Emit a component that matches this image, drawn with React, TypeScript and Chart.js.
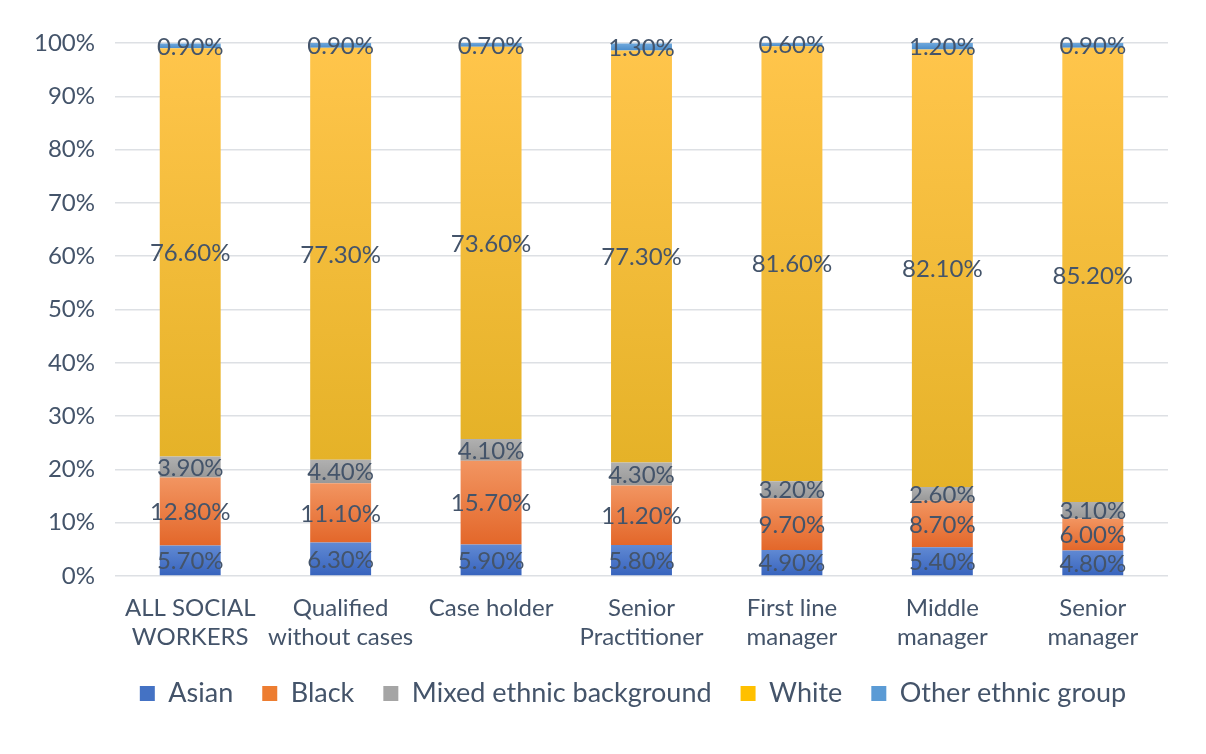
import React, { useEffect, useRef } from "react";
import { Chart, registerables } from "chart.js";

Chart.register(...registerables);

const categories: (string | string[])[] = [
  ["ALL SOCIAL", "WORKERS"],
  ["Qualified", "without cases"],
  "Case holder",
  ["Senior", "Practitioner"],
  ["First line", "manager"],
  ["Middle", "manager"],
  ["Senior", "manager"],
];

const asian = [5.7, 6.3, 5.9, 5.8, 4.9, 5.4, 4.8];
const black = [12.8, 11.1, 15.7, 11.2, 9.7, 8.7, 6.0];
const mixed = [3.9, 4.4, 4.1, 4.3, 3.2, 2.6, 3.1];
const white = [76.6, 77.3, 73.6, 77.3, 81.6, 82.1, 85.2];
const other = [0.9, 0.9, 0.7, 1.3, 0.6, 1.2, 0.9];

const yTicks = [0, 10, 20, 30, 40, 50, 60, 70, 80, 90, 100];

const TEXT = "#44546A";

const seriesDefs = [
  { label: "Asian", data: asian, top: "#6089D3", bottom: "#3763BD", solid: "#4472C4" },
  { label: "Black", data: black, top: "#F29561", bottom: "#E3672A", solid: "#ED7D31" },
  { label: "Mixed ethnic background", data: mixed, top: "#B0B0B0", bottom: "#989898", solid: "#A5A5A5" },
  { label: "White", data: white, top: "#FFC54B", bottom: "#E5B228", solid: "#FFC000" },
  { label: "Other ethnic group", data: other, top: "#6FA8DC", bottom: "#4A8CCB", solid: "#5B9BD5" },
];

const allSeries = seriesDefs.map((s) => s.data);

function gradientFor(dsIndex: number) {
  return (ctx: any) => {
    const chart = ctx.chart;
    const y = chart.scales?.y;
    const idx = ctx.dataIndex;
    const def = seriesDefs[dsIndex];
    if (!y || idx === undefined || ctx.type !== "data") return def.solid;
    let start = 0;
    for (let k = 0; k < dsIndex; k++) start += allSeries[k][idx];
    const end = start + allSeries[dsIndex][idx];
    const pTop = y.getPixelForValue(end);
    const pBot = y.getPixelForValue(start);
    if (!isFinite(pTop) || !isFinite(pBot) || pTop === pBot) return def.solid;
    const g = chart.ctx.createLinearGradient(0, pTop, 0, pBot);
    g.addColorStop(0, def.top);
    g.addColorStop(1, def.bottom);
    return g;
  };
}

const labelPlugin = {
  id: "segLabels",
  afterLayout(chart: any) {
    if (chart.legend) chart.legend.left += 84;
  },
  afterDatasetsDraw(chart: any) {
    const ctx = chart.ctx;
    ctx.save();
    ctx.font = "24px Lato";
    ctx.fillStyle = TEXT;
    ctx.textAlign = "center";
    ctx.textBaseline = "middle";
    chart.data.datasets.forEach((ds: any, di: number) => {
      const meta = chart.getDatasetMeta(di);
      meta.data.forEach((el: any, i: number) => {
        const v = ds.data[i];
        const cy = (el.y + el.base) / 2;
        ctx.fillText(v.toFixed(2) + "%", el.x, cy + 1);
      });
    });
    ctx.restore();
  },
};

export default function App() {
  const ref = useRef<HTMLCanvasElement>(null);
  useEffect(() => {
    document.body.style.margin = "0";
    const chart = new Chart(ref.current!, {
      type: "bar",
      data: {
        labels: categories,
        datasets: seriesDefs.map((s, i) => ({
          label: s.label,
          data: s.data,
          backgroundColor: gradientFor(i),
          borderWidth: 0,
          categoryPercentage: 1,
          barPercentage: 0.405,
        })),
      },
      options: {
        animation: false,
        responsive: true,
        maintainAspectRatio: false,
        layout: { padding: { top: 43, right: 38, left: 14, bottom: 37 } },
        scales: {
          x: {
            stacked: true,
            grid: { display: false },
            border: { display: false },
            afterFit: (scale: any) => {
              scale.height = 75;
            },
            ticks: {
              color: TEXT,
              font: { family: "Lato", size: 24, lineHeight: 1.2 },
              maxRotation: 0,
              autoSkip: false,
              padding: 10,
            },
          },
          y: {
            stacked: true,
            min: 0,
            max: 100,
            afterBuildTicks: (axis: any) => {
              axis.ticks = yTicks.map((v) => ({ value: v }));
            },
            grid: { color: "#DDE0E4", lineWidth: 1.5, drawTicks: false },
            border: { display: false },
            ticks: {
              color: TEXT,
              font: { family: "Lato", size: 24 },
              padding: 20,
              callback: (v: any) => v + "%",
            },
          },
        },
        plugins: {
          tooltip: { enabled: false },
          legend: {
            position: "bottom",
            labels: {
              color: TEXT,
              font: { family: "Lato", size: 27 },
              boxWidth: 15,
              boxHeight: 15,
              padding: 29,
              generateLabels: () =>
                seriesDefs.map((s, i) => ({
                  text: s.label,
                  fillStyle: s.solid,
                  strokeStyle: s.solid,
                  lineWidth: 0,
                  datasetIndex: i,
                  hidden: false,
                  fontColor: TEXT,
                })),
            },
          },
        },
      },
      plugins: [labelPlugin],
    });
    return () => chart.destroy();
  }, []);
  return (
    <div style={{ position: "absolute", left: 0, top: 0, width: 1206, height: 754 }}>
      <canvas ref={ref} />
    </div>
  );
}
